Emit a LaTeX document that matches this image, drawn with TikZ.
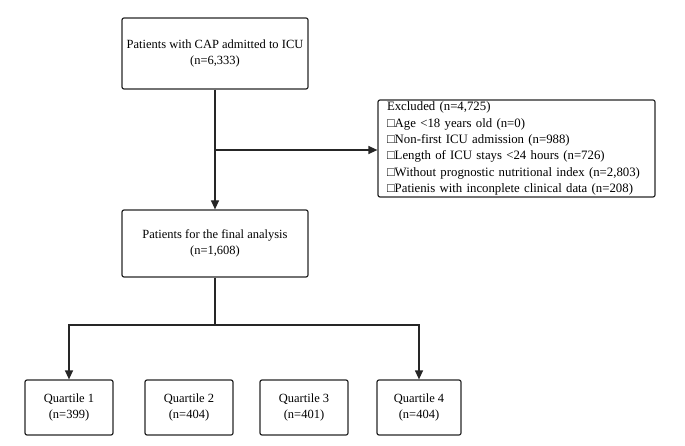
\documentclass[tikz,border=0pt]{standalone}
\usepackage{fontspec}
\setmainfont{Liberation Serif}
\usetikzlibrary{arrows.meta}
\begin{document}
\begin{tikzpicture}[x=1pt,y=-1pt,
  box/.style={draw=black!85,line width=1.2pt,rounded corners=2pt,align=center,font=\fontsize{12.5}{16}\selectfont,inner sep=0pt},
  ln/.style={draw=black!85,line width=1.2pt},
  ar/.style={ln,-{Triangle[length=9pt,width=8pt]}}]
\useasboundingbox (0,0) rectangle (685,446);
\node[box,minimum width=186,minimum height=71] (a) at (215,53.5) {Patients with CAP admitted to ICU\\(n=6,333)};
\node[box,minimum width=186,minimum height=67] (b) at (215,243.5) {Patients for the final analysis\\(n=1,608)};
\node[box,minimum width=277,minimum height=97,align=left,font=\fontsize{12.8}{16.3}\selectfont,inner xsep=9pt,text width=259pt] (e) at (516.5,148.5) {Excluded (n=4,725)\\□Age <18 years old (n=0)\\□Non-first ICU admission (n=988)\\□Length of ICU stays <24 hours (n=726)\\□Without prognostic nutritional index (n=2,803)\\□Patienis with inconplete clinical data (n=208)};
\node[box,minimum width=88,minimum height=55] (q1) at (69,407.5) {Quartile 1\\(n=399)};
\node[box,minimum width=88,minimum height=55] (q2) at (189,407.5) {Quartile 2\\(n=404)};
\node[box,minimum width=88,minimum height=55] (q3) at (304,407.5) {Quartile 3\\(n=401)};
\node[box,minimum width=84,minimum height=55] (q4) at (419,407.5) {Quartile 4\\(n=404)};
\draw[ar] (a.south) -- (b.north);
\coordinate (m) at (215,150);
\draw[ar] (m) -- (e.west |- m);
\coordinate (j) at (215,325);
\draw[ln] (b.south) -- (j);
\draw[ar] (j) -| (q1.north);
\draw[ar] (j) -| (q4.north);
\end{tikzpicture}
\end{document}
